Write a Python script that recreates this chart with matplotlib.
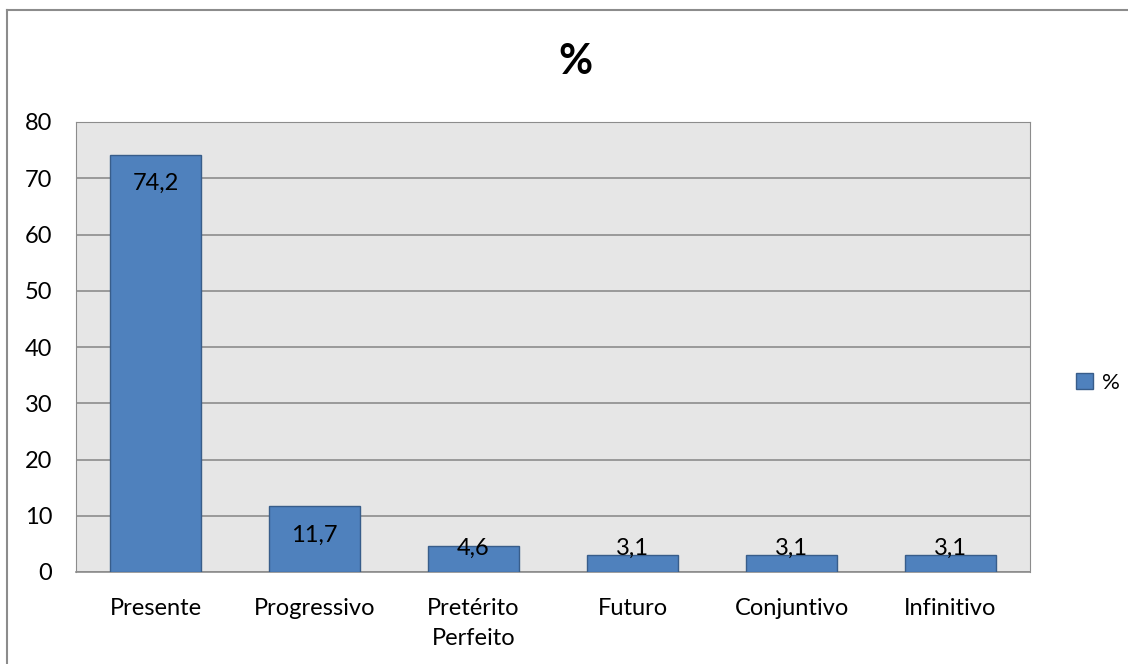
import matplotlib
matplotlib.use('Agg')
import matplotlib.pyplot as plt
from matplotlib.lines import Line2D
from matplotlib.patches import Patch
import numpy as np

plt.rcParams['font.family'] = ['Lato', 'DejaVu Sans']

categorias = ['Presente', 'Progressivo', 'Pretérito\nPerfeito', 'Futuro', 'Conjuntivo', 'Infinitivo']
valores = [74.2, 11.7, 4.6, 3.1, 3.1, 3.1]
rotulos = ['74,2', '11,7', '4,6', '3,1', '3,1', '3,1']

fig = plt.figure(figsize=(11.28, 6.64), dpi=100)
ax = fig.add_axes([76/1128, 92/664, 954/1128, 450/664])

x = np.arange(len(categorias))
ax.set_facecolor('#E6E6E6')
ax.bar(x, valores, width=0.57, color='#4F81BD', edgecolor='#385D8A', linewidth=1, zorder=3)

ax.set_xlim(-0.5, len(categorias) - 0.5)
ax.set_ylim(0, 80)
ax.set_yticks(range(0, 81, 10))
ax.yaxis.grid(True, color='#8C8C8C', linewidth=1.2, zorder=0)
ax.set_axisbelow(True)
ax.set_xticks(x)
ax.set_xticklabels(categorias, fontsize=17, linespacing=1.55)
ax.tick_params(axis='both', length=0, labelsize=17, colors='black')
ax.tick_params(axis='y', pad=17)
ax.tick_params(axis='x', pad=18.5)
for s in ['top', 'right', 'left']:
    ax.spines[s].set_color('#8C8C8C')
ax.spines['bottom'].set_color('#8C8C8C')
ax.spines['bottom'].set_linewidth(1.2)

# rótulos de dados (dentro, no topo da barra)
for xi, v, r in zip(x, valores, rotulos):
    y = max(v - 5.16, 4.27)
    ax.text(xi, y, r, ha='center', va='center', fontsize=17, zorder=4)

fig.text(575/1128, 1 - 62/664, '%', ha='center', va='center', fontsize=30, fontweight='bold')

leg = fig.legend(handles=[Patch(facecolor='#4F81BD', edgecolor='#385D8A', label='%')],
                 loc='center', bbox_to_anchor=(1098/1128, 1 - 383/664), frameon=False,
                 fontsize=16, handlelength=0.75, handleheight=0.75, handletextpad=0.4)

# borda da área do gráfico
fig.add_artist(Line2D([7/1128, 7/1128], [0, 1 - 10/664], color='#8C8C8C', linewidth=1.5))
fig.add_artist(Line2D([7/1128, 1], [1 - 10/664, 1 - 10/664], color='#8C8C8C', linewidth=1.5))

fig.savefig('out.png', dpi=100)
